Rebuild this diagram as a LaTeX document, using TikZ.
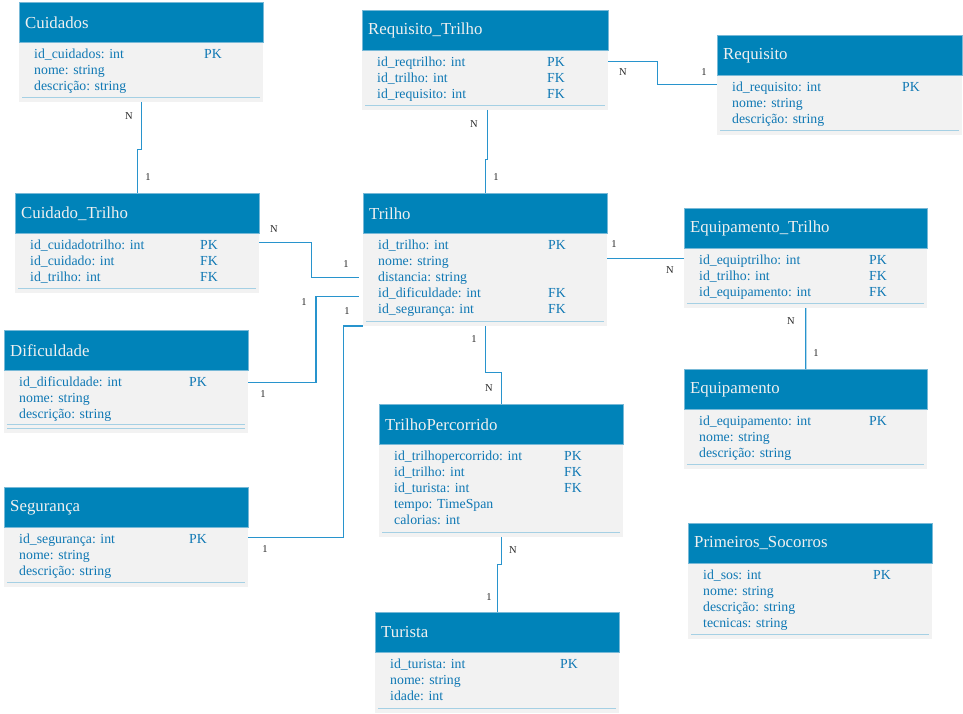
\documentclass[tikz,border=0pt]{standalone}
\usepackage{fontspec}
\setmainfont{Liberation Serif}
\usetikzlibrary{calc}
\definecolor{hdrblue}{RGB}{0,131,185}
\definecolor{hdredge}{RGB}{120,185,215}
\definecolor{bodygray}{RGB}{242,242,242}
\definecolor{txtblue}{RGB}{15,120,180}
\definecolor{lineblue}{RGB}{40,148,205}
\definecolor{seplb}{RGB}{165,208,228}
\definecolor{lblgray}{RGB}{40,40,40}
\tikzset{
  hdrbox/.style={draw=hdredge, line width=0.6pt, fill=hdrblue, anchor=north west, minimum height=40pt, inner sep=0pt},
  hdrtext/.style={anchor=west, text=white!94!black, font=\fontsize{16.8}{19}\selectfont, inner sep=0pt},
  bodybox/.style={fill=bodygray, anchor=north west, inner sep=0pt},
  rowtext/.style={anchor=base west, inner sep=0pt, text=txtblue, font=\fontsize{13.8}{16}\selectfont},
  sepline/.style={draw=seplb, line width=0.8pt},
  conn/.style={draw=lineblue, line width=1.2pt},
  card/.style={text=lblgray, font=\fontsize{10.5}{12}\selectfont, inner sep=0pt},
}
\newcommand{\erTable}[7]{%
  \node[hdrbox, minimum width=#4pt] (#1) at (#2,#3) {};
  \node[hdrtext] (#1t) at ([xshift=6pt]#1.west) {#6};
  \node[bodybox, minimum width=#4pt, minimum height=#5pt] (#1b) at (#1.south west) {};
  \node[rowtext] (#1r) at ($(#1b.north west)+(15,16)$) {\begin{tabular}[t]{@{}p{170pt}@{}l@{}}#7\end{tabular}};
  \draw[sepline] ([xshift=3pt,yshift=5pt]#1b.south west) -- ([xshift=-3pt,yshift=5pt]#1b.south east);
}
\begin{document}
\begin{tikzpicture}[x=1pt,y=-1pt]
\useasboundingbox[fill=white] (0,0) rectangle (963,714);

\erTable{cuid}{19}{2}{244}{59}{Cuidados}{id\_cuidados: int & PK\\ nome: string & \\ descrição: string & }
\erTable{ct}{15}{193}{244}{59}{Cuidado\_Trilho}{id\_cuidadotrilho: int & PK\\ id\_cuidado: int & FK\\ id\_trilho: int & FK}
\erTable{rt}{362}{10}{246}{59}{Requisito\_Trilho}{id\_reqtrilho: int & PK\\ id\_trilho: int & FK\\ id\_requisito: int & FK}
\erTable{req}{717}{35}{245}{59}{Requisito}{id\_requisito: int & PK\\ nome: string & \\ descrição: string & }
\erTable{tr}{363}{193}{244}{92}{Trilho}{id\_trilho: int & PK\\ nome: string & \\ distancia: string & \\ id\_dificuldade: int & FK\\ id\_segurança: int & FK}
\erTable{et}{684}{208}{243}{59}{Equipamento\_Trilho}{id\_equiptrilho: int & PK\\ id\_trilho: int & FK\\ id\_equipamento: int & FK}
\erTable{dif}{4}{330}{244}{62}{Dificuldade}{id\_dificuldade: int & PK\\ nome: string & \\ descrição: string & }
\draw[sepline] ([xshift=3pt,yshift=9pt]difb.south west) -- ([xshift=-3pt,yshift=9pt]difb.south east);
\erTable{seg}{4}{487}{244}{59}{Segurança}{id\_segurança: int & PK\\ nome: string & \\ descrição: string & }
\erTable{tp}{379}{404}{244}{92}{TrilhoPercorrido}{id\_trilhopercorrido: int & PK\\ id\_trilho: int & FK\\ id\_turista: int & FK\\ tempo: TimeSpan & \\ calorias: int & }
\erTable{eq}{684}{369}{243}{59}{Equipamento}{id\_equipamento: int & PK\\ nome: string & \\ descrição: string & }
\erTable{ps}{688}{523}{244}{75}{Primeiros\_Socorros}{id\_sos: int & PK\\ nome: string & \\ descrição: string & \\ tecnicas: string & }
\erTable{tu}{375}{612}{244}{60}{Turista}{id\_turista: int & PK\\ nome: string & \\ idade: int & }

% vertical connectors
\draw[conn] (cuidb.south) |- ($(cuidb.south)!.52!(ct.north)$) -| (ct.north);
\draw[conn] ([xshift=2pt]rtb.south) |- ($([xshift=2pt]rtb.south)!.6!(tr.north)$) -| (tr.north);
\draw[conn] (trb.south) |- ($(trb.south)!.6!(tp.north)$) -| (tp.north);
\draw[conn] (tpb.south) |- ($(tpb.south)!.37!(tu.north)$) -| (tu.north);
\draw[conn] (etb.south) -- (eq.north);
% horizontal connectors
\draw[conn] ([yshift=-11pt]rtb.north east) -| ($([yshift=-11pt]rtb.north east)!.45!([yshift=-9pt]reqb.north west)$) |- ([yshift=-9pt]reqb.north west);
\draw[conn] ([yshift=-9pt]ctb.north east) -| ($([yshift=-9pt]ctb.north east)!.5!([yshift=-44pt]trb.north west)$) |- ([xshift=-4pt,yshift=-44pt]trb.north west);
\draw[conn] ([yshift=-12pt]difb.north east) -| ($([yshift=-12pt]difb.north east)!.59!([yshift=-63pt]trb.north west)$) |- ([xshift=-4pt,yshift=-63pt]trb.north west);
\draw[conn] ([yshift=-10pt]segb.north east) -| ($([yshift=-10pt]segb.north east)!.83!(trb.south west)$) |- (trb.south west);
\draw[conn] ([yshift=-25pt]trb.north east) -- ([yshift=-10pt]etb.north west);

% cardinalities
\node[card] (l1) at (129,116) {N};
\node[card] (l2) at (148,177) {1};
\node[card] (l3) at (274,229) {N};
\node[card] (l4) at (346,264) {1};
\node[card] (l5) at (304,302) {1};
\node[card] (l6) at (263,394) {1};
\node[card] (l7) at (347,311) {1};
\node[card] (l8) at (265,549) {1};
\node[card] (l9) at (474,124) {N};
\node[card] (l10) at (496,177) {1};
\node[card] (l11) at (623,72) {N};
\node[card] (l12) at (704,72) {1};
\node[card] (l13) at (614,244) {1};
\node[card] (l14) at (670,270) {N};
\node[card] (l15) at (791,321) {N};
\node[card] (l16) at (816,353) {1};
\node[card] (l17) at (474,339) {1};
\node[card] (l18) at (489,388) {N};
\node[card] (l19) at (513,550) {N};
\node[card] (l20) at (489,597) {1};
\end{tikzpicture}
\end{document}
